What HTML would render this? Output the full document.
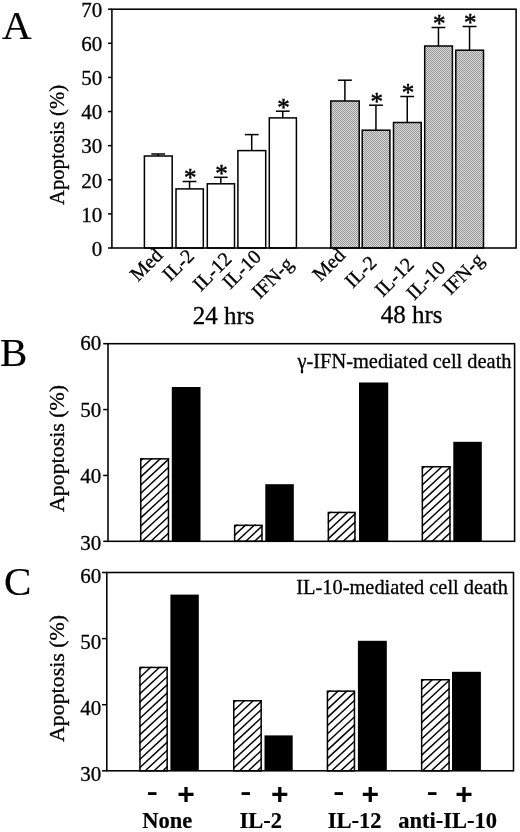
<!DOCTYPE html>
<html lang="en"><head><meta charset="utf-8"><title>Apoptosis figure</title>
<style>
html,body{margin:0;padding:0;background:#fff;}
body{width:520px;height:832px;overflow:hidden;}
svg{display:block;will-change:transform;}
text{font-family:"Liberation Serif", serif;fill:#000;stroke:#000;stroke-width:0.3px;}
.ln{stroke:#000;stroke-width:1.5;}
.hl{stroke:#000;stroke-width:1.45;}
.hb{stroke:#000;stroke-width:1.5;}
.fr{stroke:#000;stroke-width:1.55;}
.bar{stroke:#000;stroke-width:1.5;}
.tk{font-size:21px;}
.yl{font-size:20.7px;}
.yl2{font-size:21.9px;}
.pl{font-size:41px;stroke-width:0.2px;}
.xl{font-size:20px;}
.gl{font-size:25px;}
.tt{font-size:20.4px;}
.star{font-size:25px;stroke:#000;stroke-width:0.5px;text-anchor:middle;}
.pm{font-family:"Liberation Sans", sans-serif;font-weight:bold;font-size:26px;stroke:none;}
.pp{font-family:"Liberation Sans", sans-serif;font-weight:bold;font-size:30px;stroke:none;}
.bl{font-weight:bold;font-size:22.5px;stroke-width:0.2px;}
</style></head><body>
<svg width="520" height="832" viewBox="0 0 520 832">
<defs>
<pattern id="dots" width="2" height="2" patternUnits="userSpaceOnUse">
<rect width="2" height="2" fill="#dcdcdc"/><rect width="1" height="1" fill="#949494"/><rect x="1" y="1" width="1" height="1" fill="#949494"/>
</pattern>
</defs>
<rect width="520" height="832" fill="#fff"/>
<line x1="158.20" y1="154.00" x2="158.20" y2="156.00" class="ln"/>
<line x1="151.30" y1="154.00" x2="165.10" y2="154.00" class="ln"/>
<rect x="144.40" y="156.00" width="27.80" height="92.00" fill="#fff" class="bar"/>
<line x1="189.55" y1="181.50" x2="189.55" y2="188.90" class="ln"/>
<line x1="182.65" y1="181.50" x2="196.45" y2="181.50" class="ln"/>
<text x="190.25" y="185.80" class="star">*</text>
<rect x="176.00" y="188.90" width="27.30" height="59.10" fill="#fff" class="bar"/>
<line x1="220.80" y1="177.30" x2="220.80" y2="183.80" class="ln"/>
<line x1="213.90" y1="177.30" x2="227.70" y2="177.30" class="ln"/>
<text x="221.50" y="181.60" class="star">*</text>
<rect x="207.30" y="183.80" width="27.20" height="64.20" fill="#fff" class="bar"/>
<line x1="251.70" y1="134.60" x2="251.70" y2="150.60" class="ln"/>
<line x1="244.80" y1="134.60" x2="258.60" y2="134.60" class="ln"/>
<rect x="237.90" y="150.60" width="27.80" height="97.40" fill="#fff" class="bar"/>
<line x1="282.75" y1="111.20" x2="282.75" y2="117.90" class="ln"/>
<line x1="275.85" y1="111.20" x2="289.65" y2="111.20" class="ln"/>
<text x="283.45" y="115.50" class="star">*</text>
<rect x="269.30" y="117.90" width="27.10" height="130.10" fill="#fff" class="bar"/>
<line x1="344.90" y1="80.20" x2="344.90" y2="101.00" class="ln"/>
<line x1="338.00" y1="80.20" x2="351.80" y2="80.20" class="ln"/>
<rect x="330.80" y="101.00" width="28.40" height="147.00" fill="url(#dots)" class="bar"/>
<line x1="375.95" y1="105.20" x2="375.95" y2="130.20" class="ln"/>
<line x1="369.05" y1="105.20" x2="382.85" y2="105.20" class="ln"/>
<text x="376.65" y="109.50" class="star">*</text>
<rect x="362.20" y="130.20" width="27.70" height="117.80" fill="url(#dots)" class="bar"/>
<line x1="407.25" y1="96.50" x2="407.25" y2="122.50" class="ln"/>
<line x1="400.35" y1="96.50" x2="414.15" y2="96.50" class="ln"/>
<text x="407.95" y="100.80" class="star">*</text>
<rect x="393.50" y="122.50" width="27.70" height="125.50" fill="url(#dots)" class="bar"/>
<line x1="438.45" y1="27.50" x2="438.45" y2="46.00" class="ln"/>
<line x1="431.55" y1="27.50" x2="445.35" y2="27.50" class="ln"/>
<text x="439.15" y="31.80" class="star">*</text>
<rect x="424.70" y="46.00" width="27.70" height="202.00" fill="url(#dots)" class="bar"/>
<line x1="469.55" y1="26.50" x2="469.55" y2="50.20" class="ln"/>
<line x1="462.65" y1="26.50" x2="476.45" y2="26.50" class="ln"/>
<text x="470.25" y="30.80" class="star">*</text>
<rect x="455.80" y="50.20" width="27.70" height="197.80" fill="url(#dots)" class="bar"/>
<rect x="111.9" y="9.2" width="404.20000000000005" height="238.8" fill="none" class="fr"/>
<line x1="108.0" y1="248.00" x2="111.9" y2="248.00" class="ln"/>
<text x="102.2" y="255.80" class="tk" text-anchor="end">0</text>
<line x1="108.0" y1="213.89" x2="111.9" y2="213.89" class="ln"/>
<text x="102.2" y="221.69" class="tk" text-anchor="end">10</text>
<line x1="108.0" y1="179.77" x2="111.9" y2="179.77" class="ln"/>
<text x="102.2" y="187.57" class="tk" text-anchor="end">20</text>
<line x1="108.0" y1="145.66" x2="111.9" y2="145.66" class="ln"/>
<text x="102.2" y="153.46" class="tk" text-anchor="end">30</text>
<line x1="108.0" y1="111.54" x2="111.9" y2="111.54" class="ln"/>
<text x="102.2" y="119.34" class="tk" text-anchor="end">40</text>
<line x1="108.0" y1="77.43" x2="111.9" y2="77.43" class="ln"/>
<text x="102.2" y="85.23" class="tk" text-anchor="end">50</text>
<line x1="108.0" y1="43.31" x2="111.9" y2="43.31" class="ln"/>
<text x="102.2" y="51.11" class="tk" text-anchor="end">60</text>
<line x1="108.0" y1="9.20" x2="111.9" y2="9.20" class="ln"/>
<text x="102.2" y="17.00" class="tk" text-anchor="end">70</text>
<text transform="translate(64.4,145) rotate(-90)" class="yl" text-anchor="middle">Apoptosis (%)</text>
<text x="2" y="39" class="pl">A</text>
<text transform="translate(163.90,256.40) rotate(-45)" class="xl" text-anchor="end">Med</text>
<text transform="translate(195.45,257.10) rotate(-45)" class="xl" text-anchor="end">IL-2</text>
<text transform="translate(232.90,260.10) rotate(-45)" class="xl" text-anchor="end">IL-12</text>
<text transform="translate(262.35,257.90) rotate(-45)" class="xl" text-anchor="end">IL-10</text>
<text transform="translate(294.35,265.30) rotate(-45)" class="xl" text-anchor="end">IFN-g</text>
<text transform="translate(346.35,256.40) rotate(-45)" class="xl" text-anchor="end">Med</text>
<text transform="translate(377.95,263.90) rotate(-45)" class="xl" text-anchor="end">IL-2</text>
<text transform="translate(415.05,265.65) rotate(-45)" class="xl" text-anchor="end">IL-12</text>
<text transform="translate(446.50,268.85) rotate(-45)" class="xl" text-anchor="end">IL-10</text>
<text transform="translate(485.10,261.25) rotate(-45)" class="xl" text-anchor="end">IFN-g</text>
<text x="223.7" y="323.8" class="gl" text-anchor="middle">24 hrs</text>
<text x="411.7" y="323.0" class="gl" text-anchor="middle">48 hrs</text>
<clipPath id="b0"><rect x="140.00" y="458.10" width="29.20" height="83.20"/></clipPath>
<rect x="140.00" y="458.10" width="29.20" height="83.20" fill="#fff"/>
<g clip-path="url(#b0)">
<line x1="140.00" y1="453.00" x2="169.20" y2="425.84" class="hl"/>
<line x1="140.00" y1="461.20" x2="169.20" y2="434.04" class="hl"/>
<line x1="140.00" y1="469.40" x2="169.20" y2="442.24" class="hl"/>
<line x1="140.00" y1="477.60" x2="169.20" y2="450.44" class="hl"/>
<line x1="140.00" y1="485.80" x2="169.20" y2="458.64" class="hl"/>
<line x1="140.00" y1="494.00" x2="169.20" y2="466.84" class="hl"/>
<line x1="140.00" y1="502.20" x2="169.20" y2="475.04" class="hl"/>
<line x1="140.00" y1="510.40" x2="169.20" y2="483.24" class="hl"/>
<line x1="140.00" y1="518.60" x2="169.20" y2="491.44" class="hl"/>
<line x1="140.00" y1="526.80" x2="169.20" y2="499.64" class="hl"/>
<line x1="140.00" y1="535.00" x2="169.20" y2="507.84" class="hl"/>
<line x1="140.00" y1="543.20" x2="169.20" y2="516.04" class="hl"/>
<line x1="140.00" y1="551.40" x2="169.20" y2="524.24" class="hl"/>
<line x1="140.00" y1="559.60" x2="169.20" y2="532.44" class="hl"/>
<line x1="140.00" y1="567.80" x2="169.20" y2="540.64" class="hl"/>
<line x1="140.00" y1="576.00" x2="169.20" y2="548.84" class="hl"/>
</g>
<rect x="140.75" y="458.85" width="27.70" height="82.45" fill="none" class="hb"/>
<rect x="171.80" y="387.00" width="28.70" height="154.30" fill="#000"/>
<clipPath id="b2"><rect x="233.90" y="524.60" width="28.80" height="16.70"/></clipPath>
<rect x="233.90" y="524.60" width="28.80" height="16.70" fill="#fff"/>
<g clip-path="url(#b2)">
<line x1="233.90" y1="519.50" x2="262.70" y2="492.72" class="hl"/>
<line x1="233.90" y1="527.70" x2="262.70" y2="500.92" class="hl"/>
<line x1="233.90" y1="535.90" x2="262.70" y2="509.12" class="hl"/>
<line x1="233.90" y1="544.10" x2="262.70" y2="517.32" class="hl"/>
<line x1="233.90" y1="552.30" x2="262.70" y2="525.52" class="hl"/>
<line x1="233.90" y1="560.50" x2="262.70" y2="533.72" class="hl"/>
<line x1="233.90" y1="568.70" x2="262.70" y2="541.92" class="hl"/>
</g>
<rect x="234.65" y="525.35" width="27.30" height="15.95" fill="none" class="hb"/>
<rect x="265.30" y="484.20" width="28.50" height="57.10" fill="#000"/>
<clipPath id="b4"><rect x="327.60" y="511.70" width="28.10" height="29.60"/></clipPath>
<rect x="327.60" y="511.70" width="28.10" height="29.60" fill="#fff"/>
<g clip-path="url(#b4)">
<line x1="327.60" y1="506.60" x2="355.70" y2="480.47" class="hl"/>
<line x1="327.60" y1="514.80" x2="355.70" y2="488.67" class="hl"/>
<line x1="327.60" y1="523.00" x2="355.70" y2="496.87" class="hl"/>
<line x1="327.60" y1="531.20" x2="355.70" y2="505.07" class="hl"/>
<line x1="327.60" y1="539.40" x2="355.70" y2="513.27" class="hl"/>
<line x1="327.60" y1="547.60" x2="355.70" y2="521.47" class="hl"/>
<line x1="327.60" y1="555.80" x2="355.70" y2="529.67" class="hl"/>
<line x1="327.60" y1="564.00" x2="355.70" y2="537.87" class="hl"/>
<line x1="327.60" y1="572.20" x2="355.70" y2="546.07" class="hl"/>
</g>
<rect x="328.35" y="512.45" width="26.60" height="28.85" fill="none" class="hb"/>
<rect x="359.00" y="382.50" width="29.20" height="158.80" fill="#000"/>
<clipPath id="b6"><rect x="421.60" y="466.00" width="29.10" height="75.30"/></clipPath>
<rect x="421.60" y="466.00" width="29.10" height="75.30" fill="#fff"/>
<g clip-path="url(#b6)">
<line x1="421.60" y1="460.90" x2="450.70" y2="433.84" class="hl"/>
<line x1="421.60" y1="469.10" x2="450.70" y2="442.04" class="hl"/>
<line x1="421.60" y1="477.30" x2="450.70" y2="450.24" class="hl"/>
<line x1="421.60" y1="485.50" x2="450.70" y2="458.44" class="hl"/>
<line x1="421.60" y1="493.70" x2="450.70" y2="466.64" class="hl"/>
<line x1="421.60" y1="501.90" x2="450.70" y2="474.84" class="hl"/>
<line x1="421.60" y1="510.10" x2="450.70" y2="483.04" class="hl"/>
<line x1="421.60" y1="518.30" x2="450.70" y2="491.24" class="hl"/>
<line x1="421.60" y1="526.50" x2="450.70" y2="499.44" class="hl"/>
<line x1="421.60" y1="534.70" x2="450.70" y2="507.64" class="hl"/>
<line x1="421.60" y1="542.90" x2="450.70" y2="515.84" class="hl"/>
<line x1="421.60" y1="551.10" x2="450.70" y2="524.04" class="hl"/>
<line x1="421.60" y1="559.30" x2="450.70" y2="532.24" class="hl"/>
<line x1="421.60" y1="567.50" x2="450.70" y2="540.44" class="hl"/>
<line x1="421.60" y1="575.70" x2="450.70" y2="548.64" class="hl"/>
</g>
<rect x="422.35" y="466.75" width="27.60" height="74.55" fill="none" class="hb"/>
<rect x="453.30" y="441.80" width="28.50" height="99.50" fill="#000"/>
<rect x="108.0" y="343.7" width="406.6" height="197.59999999999997" fill="none" class="fr"/>
<line x1="103.2" y1="541.30" x2="108.0" y2="541.30" class="ln"/>
<text x="101.2" y="549.80" class="tk" text-anchor="end">30</text>
<line x1="103.2" y1="475.43" x2="108.0" y2="475.43" class="ln"/>
<text x="101.2" y="483.27" class="tk" text-anchor="end">40</text>
<line x1="103.2" y1="409.57" x2="108.0" y2="409.57" class="ln"/>
<text x="101.2" y="416.73" class="tk" text-anchor="end">50</text>
<line x1="103.2" y1="343.70" x2="108.0" y2="343.70" class="ln"/>
<text x="101.2" y="350.20" class="tk" text-anchor="end">60</text>
<text transform="translate(63.7,448.5) rotate(-90)" class="yl2" text-anchor="middle">Apoptosis (%)</text>
<text x="-0.1" y="365.8" class="pl">B</text>
<text x="511.5" y="367.8" class="tt" text-anchor="end">γ-IFN-mediated cell death</text>
<clipPath id="c0"><rect x="139.20" y="666.70" width="28.70" height="104.10"/></clipPath>
<rect x="139.20" y="666.70" width="28.70" height="104.10" fill="#fff"/>
<g clip-path="url(#c0)">
<line x1="139.20" y1="661.60" x2="167.90" y2="634.91" class="hl"/>
<line x1="139.20" y1="669.80" x2="167.90" y2="643.11" class="hl"/>
<line x1="139.20" y1="678.00" x2="167.90" y2="651.31" class="hl"/>
<line x1="139.20" y1="686.20" x2="167.90" y2="659.51" class="hl"/>
<line x1="139.20" y1="694.40" x2="167.90" y2="667.71" class="hl"/>
<line x1="139.20" y1="702.60" x2="167.90" y2="675.91" class="hl"/>
<line x1="139.20" y1="710.80" x2="167.90" y2="684.11" class="hl"/>
<line x1="139.20" y1="719.00" x2="167.90" y2="692.31" class="hl"/>
<line x1="139.20" y1="727.20" x2="167.90" y2="700.51" class="hl"/>
<line x1="139.20" y1="735.40" x2="167.90" y2="708.71" class="hl"/>
<line x1="139.20" y1="743.60" x2="167.90" y2="716.91" class="hl"/>
<line x1="139.20" y1="751.80" x2="167.90" y2="725.11" class="hl"/>
<line x1="139.20" y1="760.00" x2="167.90" y2="733.31" class="hl"/>
<line x1="139.20" y1="768.20" x2="167.90" y2="741.51" class="hl"/>
<line x1="139.20" y1="776.40" x2="167.90" y2="749.71" class="hl"/>
<line x1="139.20" y1="784.60" x2="167.90" y2="757.91" class="hl"/>
<line x1="139.20" y1="792.80" x2="167.90" y2="766.11" class="hl"/>
<line x1="139.20" y1="801.00" x2="167.90" y2="774.31" class="hl"/>
</g>
<rect x="139.95" y="667.45" width="27.20" height="103.35" fill="none" class="hb"/>
<rect x="170.40" y="594.60" width="28.40" height="176.20" fill="#000"/>
<clipPath id="c2"><rect x="233.00" y="700.00" width="28.90" height="70.80"/></clipPath>
<rect x="233.00" y="700.00" width="28.90" height="70.80" fill="#fff"/>
<g clip-path="url(#c2)">
<line x1="233.00" y1="694.90" x2="261.90" y2="668.02" class="hl"/>
<line x1="233.00" y1="703.10" x2="261.90" y2="676.22" class="hl"/>
<line x1="233.00" y1="711.30" x2="261.90" y2="684.42" class="hl"/>
<line x1="233.00" y1="719.50" x2="261.90" y2="692.62" class="hl"/>
<line x1="233.00" y1="727.70" x2="261.90" y2="700.82" class="hl"/>
<line x1="233.00" y1="735.90" x2="261.90" y2="709.02" class="hl"/>
<line x1="233.00" y1="744.10" x2="261.90" y2="717.22" class="hl"/>
<line x1="233.00" y1="752.30" x2="261.90" y2="725.42" class="hl"/>
<line x1="233.00" y1="760.50" x2="261.90" y2="733.62" class="hl"/>
<line x1="233.00" y1="768.70" x2="261.90" y2="741.82" class="hl"/>
<line x1="233.00" y1="776.90" x2="261.90" y2="750.02" class="hl"/>
<line x1="233.00" y1="785.10" x2="261.90" y2="758.22" class="hl"/>
<line x1="233.00" y1="793.30" x2="261.90" y2="766.42" class="hl"/>
<line x1="233.00" y1="801.50" x2="261.90" y2="774.62" class="hl"/>
</g>
<rect x="233.75" y="700.75" width="27.40" height="70.05" fill="none" class="hb"/>
<rect x="264.50" y="735.40" width="28.20" height="35.40" fill="#000"/>
<clipPath id="c4"><rect x="326.70" y="690.40" width="28.50" height="80.40"/></clipPath>
<rect x="326.70" y="690.40" width="28.50" height="80.40" fill="#fff"/>
<g clip-path="url(#c4)">
<line x1="326.70" y1="685.30" x2="355.20" y2="658.79" class="hl"/>
<line x1="326.70" y1="693.50" x2="355.20" y2="667.00" class="hl"/>
<line x1="326.70" y1="701.70" x2="355.20" y2="675.20" class="hl"/>
<line x1="326.70" y1="709.90" x2="355.20" y2="683.40" class="hl"/>
<line x1="326.70" y1="718.10" x2="355.20" y2="691.60" class="hl"/>
<line x1="326.70" y1="726.30" x2="355.20" y2="699.80" class="hl"/>
<line x1="326.70" y1="734.50" x2="355.20" y2="708.00" class="hl"/>
<line x1="326.70" y1="742.70" x2="355.20" y2="716.20" class="hl"/>
<line x1="326.70" y1="750.90" x2="355.20" y2="724.40" class="hl"/>
<line x1="326.70" y1="759.10" x2="355.20" y2="732.60" class="hl"/>
<line x1="326.70" y1="767.30" x2="355.20" y2="740.80" class="hl"/>
<line x1="326.70" y1="775.50" x2="355.20" y2="749.00" class="hl"/>
<line x1="326.70" y1="783.70" x2="355.20" y2="757.20" class="hl"/>
<line x1="326.70" y1="791.90" x2="355.20" y2="765.40" class="hl"/>
<line x1="326.70" y1="800.10" x2="355.20" y2="773.60" class="hl"/>
</g>
<rect x="327.45" y="691.15" width="27.00" height="79.65" fill="none" class="hb"/>
<rect x="357.90" y="640.80" width="28.90" height="130.00" fill="#000"/>
<clipPath id="c6"><rect x="420.90" y="679.00" width="28.90" height="91.80"/></clipPath>
<rect x="420.90" y="679.00" width="28.90" height="91.80" fill="#fff"/>
<g clip-path="url(#c6)">
<line x1="420.90" y1="673.90" x2="449.80" y2="647.02" class="hl"/>
<line x1="420.90" y1="682.10" x2="449.80" y2="655.22" class="hl"/>
<line x1="420.90" y1="690.30" x2="449.80" y2="663.42" class="hl"/>
<line x1="420.90" y1="698.50" x2="449.80" y2="671.62" class="hl"/>
<line x1="420.90" y1="706.70" x2="449.80" y2="679.82" class="hl"/>
<line x1="420.90" y1="714.90" x2="449.80" y2="688.02" class="hl"/>
<line x1="420.90" y1="723.10" x2="449.80" y2="696.22" class="hl"/>
<line x1="420.90" y1="731.30" x2="449.80" y2="704.42" class="hl"/>
<line x1="420.90" y1="739.50" x2="449.80" y2="712.62" class="hl"/>
<line x1="420.90" y1="747.70" x2="449.80" y2="720.82" class="hl"/>
<line x1="420.90" y1="755.90" x2="449.80" y2="729.02" class="hl"/>
<line x1="420.90" y1="764.10" x2="449.80" y2="737.22" class="hl"/>
<line x1="420.90" y1="772.30" x2="449.80" y2="745.42" class="hl"/>
<line x1="420.90" y1="780.50" x2="449.80" y2="753.62" class="hl"/>
<line x1="420.90" y1="788.70" x2="449.80" y2="761.82" class="hl"/>
<line x1="420.90" y1="796.90" x2="449.80" y2="770.02" class="hl"/>
<line x1="420.90" y1="805.10" x2="449.80" y2="778.22" class="hl"/>
</g>
<rect x="421.65" y="679.75" width="27.40" height="91.05" fill="none" class="hb"/>
<rect x="452.00" y="671.80" width="28.90" height="99.00" fill="#000"/>
<rect x="106.8" y="572.5" width="406.7" height="198.29999999999995" fill="none" class="fr"/>
<line x1="102.0" y1="770.80" x2="106.8" y2="770.80" class="ln"/>
<text x="101.2" y="781.20" class="tk" text-anchor="end">30</text>
<line x1="102.0" y1="704.70" x2="106.8" y2="704.70" class="ln"/>
<text x="101.2" y="715.07" class="tk" text-anchor="end">40</text>
<line x1="102.0" y1="638.60" x2="106.8" y2="638.60" class="ln"/>
<text x="101.2" y="648.93" class="tk" text-anchor="end">50</text>
<line x1="102.0" y1="572.50" x2="106.8" y2="572.50" class="ln"/>
<text x="101.2" y="582.80" class="tk" text-anchor="end">60</text>
<text transform="translate(63.7,678.5) rotate(-90)" class="yl2" text-anchor="middle">Apoptosis (%)</text>
<text x="4.1" y="594.6" class="pl">C</text>
<text x="508.0" y="594.3" class="tt" text-anchor="end">IL-10-mediated cell death</text>
<text transform="translate(152.35,799.6) scale(1.28,0.9)" class="pm" text-anchor="middle">-</text>
<text x="186.1" y="803.8" class="pp" text-anchor="middle">+</text>
<text transform="translate(245.8,799.6) scale(1.28,0.9)" class="pm" text-anchor="middle">-</text>
<text x="279.85" y="803.8" class="pp" text-anchor="middle">+</text>
<text transform="translate(338.8,799.6) scale(1.28,0.9)" class="pm" text-anchor="middle">-</text>
<text x="370.2" y="803.8" class="pp" text-anchor="middle">+</text>
<text transform="translate(432.3,799.6) scale(1.28,0.9)" class="pm" text-anchor="middle">-</text>
<text x="464.0" y="803.8" class="pp" text-anchor="middle">+</text>
<text x="167.3" y="828.2" class="bl" text-anchor="middle">None</text>
<text x="260.8" y="828.2" class="bl" text-anchor="middle">IL-2</text>
<text x="354.6" y="828.2" class="bl" text-anchor="middle">IL-12</text>
<text x="447.7" y="828.2" class="bl" text-anchor="middle">anti-IL-10</text>
</svg>
</body></html>
